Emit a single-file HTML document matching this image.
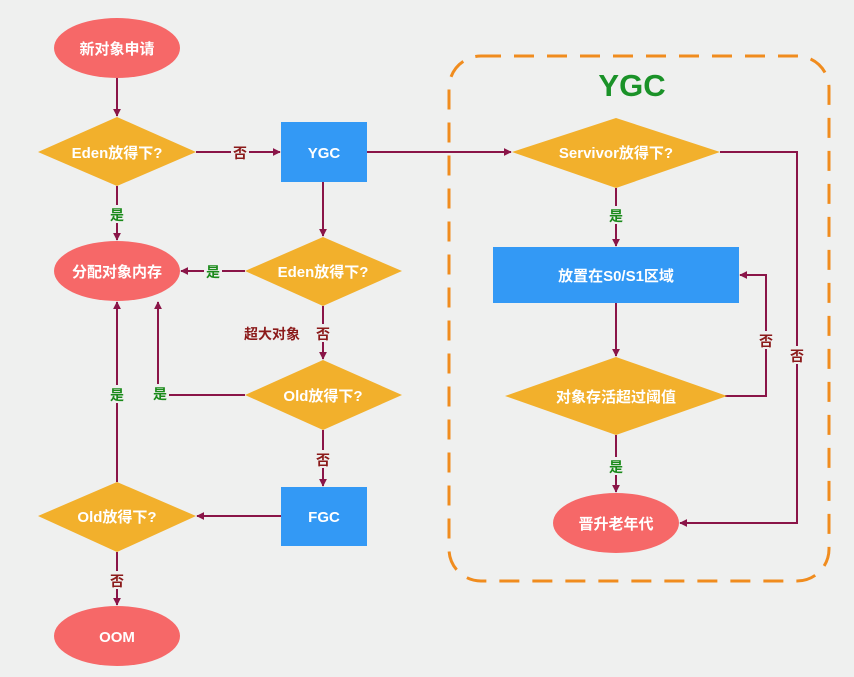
<!DOCTYPE html>
<html><head><meta charset="utf-8"><style>
html,body{margin:0;padding:0;background:#eff0ef;}
svg{display:block}
text{font-family:"Liberation Sans","Noto Sans CJK SC",sans-serif;font-weight:bold;}
</style></head><body>
<svg width="854" height="677" viewBox="0 0 854 677" xmlns="http://www.w3.org/2000/svg">
<defs>
<marker id="a" viewBox="0 0 10 10" refX="9" refY="5" markerWidth="8" markerHeight="8" orient="auto-start-reverse" markerUnits="userSpaceOnUse">
<path d="M0,0 L10,5 L0,10 z" fill="#8a1548"/></marker>
</defs>
<rect x="0" y="0" width="854" height="677" fill="#eff0ef"/>
<rect x="449" y="56" width="380" height="525" rx="32" fill="none" stroke="#f08c1e" stroke-width="3" stroke-dasharray="20,13"/>
<text x="632" y="96" font-size="31" fill="#1a9228" text-anchor="middle">YGC</text>

<g stroke="#8a1548" stroke-width="2" fill="none">
<line x1="117" y1="78" x2="117" y2="116" marker-end="url(#a)"/>
<line x1="196" y1="152" x2="280" y2="152" marker-end="url(#a)"/>
<line x1="117" y1="186" x2="117" y2="240" marker-end="url(#a)"/>
<line x1="367" y1="152" x2="511" y2="152" marker-end="url(#a)"/>
<line x1="323" y1="182" x2="323" y2="236" marker-end="url(#a)"/>
<line x1="245" y1="271" x2="181" y2="271" marker-end="url(#a)"/>
<line x1="323" y1="306" x2="323" y2="359" marker-end="url(#a)"/>
<polyline points="245,395 158,395 158,302" marker-end="url(#a)"/>
<line x1="323" y1="430" x2="323" y2="486" marker-end="url(#a)"/>
<line x1="281" y1="516" x2="197" y2="516" marker-end="url(#a)"/>
<line x1="117" y1="482" x2="117" y2="302" marker-end="url(#a)"/>
<line x1="117" y1="552" x2="117" y2="605" marker-end="url(#a)"/>
<line x1="616" y1="188" x2="616" y2="246" marker-end="url(#a)"/>
<line x1="616" y1="303" x2="616" y2="356" marker-end="url(#a)"/>
<line x1="616" y1="435" x2="616" y2="492" marker-end="url(#a)"/>
<polyline points="725,396 766,396 766,275 740,275" marker-end="url(#a)"/>
<polyline points="720,152 797,152 797,523 680,523" marker-end="url(#a)"/>
</g>

<g fill="#f66868">
<ellipse cx="117" cy="48" rx="63" ry="30"/>
<ellipse cx="117" cy="271" rx="63" ry="30"/>
<ellipse cx="117" cy="636" rx="63" ry="30"/>
<ellipse cx="616" cy="523" rx="63" ry="30"/>
</g>
<g fill="#f2b02c">
<polygon points="38,152 117,117 196,152 117,186"/>
<polygon points="245,271 323,237 402,271 323,306"/>
<polygon points="245,395 323,360 402,395 323,430"/>
<polygon points="38,516 117,482 196,516 117,552"/>
<polygon points="512,152 616,118 720,152 616,188"/>
<polygon points="505,396 616,357 727,396 616,435"/>
</g>
<g fill="#3399f5">
<rect x="281" y="122" width="86" height="60"/>
<rect x="281" y="487" width="86" height="59"/>
<rect x="493" y="247" width="246" height="56"/>
</g>

<g fill="#fff" font-size="15" text-anchor="middle">
<text x="117" y="54">新对象申请</text>
<text x="117" y="277">分配对象内存</text>
<text x="117" y="642">OOM</text>
<text x="616" y="529">晋升老年代</text>
<text x="117" y="158">Eden放得下?</text>
<text x="323" y="277">Eden放得下?</text>
<text x="323" y="401">Old放得下?</text>
<text x="117" y="522">Old放得下?</text>
<text x="616" y="158">Servivor放得下?</text>
<text x="616" y="402">对象存活超过阈值</text>
<text x="324" y="158">YGC</text>
<text x="324" y="522">FGC</text>
<text x="616" y="281">放置在S0/S1区域</text>
</g>

<g font-size="14" text-anchor="middle">
<rect x="231" y="143" width="18" height="18" fill="#eff0ef"/>
<text x="240" y="158" fill="#8b1a1a">否</text>
<rect x="108" y="205" width="18" height="18" fill="#eff0ef"/>
<text x="117" y="220" fill="#1a8a1a">是</text>
<rect x="204" y="262" width="18" height="18" fill="#eff0ef"/>
<text x="213" y="277" fill="#1a8a1a">是</text>
<text x="272" y="339" fill="#8b1a1a">超大对象</text>
<rect x="314" y="324" width="18" height="18" fill="#eff0ef"/>
<text x="323" y="339" fill="#8b1a1a">否</text>
<rect x="151" y="384" width="18" height="18" fill="#eff0ef"/>
<text x="160" y="399" fill="#1a8a1a">是</text>
<rect x="108" y="385" width="18" height="18" fill="#eff0ef"/>
<text x="117" y="400" fill="#1a8a1a">是</text>
<rect x="314" y="450" width="18" height="18" fill="#eff0ef"/>
<text x="323" y="465" fill="#8b1a1a">否</text>
<rect x="108" y="571" width="18" height="18" fill="#eff0ef"/>
<text x="117" y="586" fill="#8b1a1a">否</text>
<rect x="607" y="206" width="18" height="18" fill="#eff0ef"/>
<text x="616" y="221" fill="#1a8a1a">是</text>
<rect x="607" y="457" width="18" height="18" fill="#eff0ef"/>
<text x="616" y="472" fill="#1a8a1a">是</text>
<rect x="757" y="331" width="18" height="18" fill="#eff0ef"/>
<text x="766" y="346" fill="#8b1a1a">否</text>
<rect x="788" y="346" width="18" height="18" fill="#eff0ef"/>
<text x="797" y="361" fill="#8b1a1a">否</text>
</g>
</svg>
</body></html>
